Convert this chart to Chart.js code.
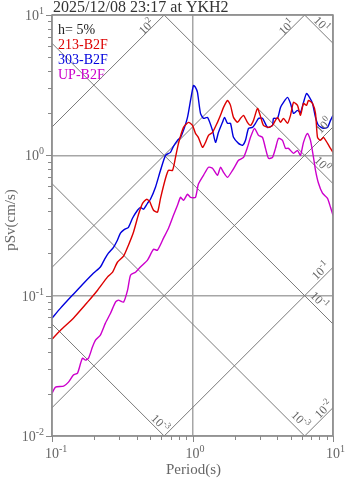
<!DOCTYPE html>
<html>
<head>
<meta charset="utf-8">
<script src="https://cdn.jsdelivr.net/npm/chart.js@4.4.1/dist/chart.umd.min.js"></script>
<style>
  html, body { margin: 0; padding: 0; background: #fff; }
  #wrap { width: 347px; height: 478px; }
</style>
</head>
<body>
<div id="wrap"><canvas id="spectrum" width="347" height="478"></canvas></div>
<script>
const titleText = "2025/12/08 23:17 at YKH2";
const dampingLabel = "h= 5%";
const seriesNames = ["213-B2F", "303-B2F", "UP-B2F"];
const seriesColors = ["#dd0000", "#0000dd", "#cc00cc"];

// 213-B2F
const periods213 = [0.1, 0.115, 0.142, 0.179, 0.211, 0.248, 0.27, 0.292, 0.323, 0.35, 0.38, 0.413, 0.441, 0.471, 0.494, 0.528, 0.563, 0.592, 0.643, 0.675, 0.721, 0.757, 0.795, 0.863, 0.937, 1.0, 1.05, 1.10, 1.178, 1.237, 1.30, 1.388, 1.506, 1.582, 1.662, 1.775, 1.864, 1.958, 2.09, 2.196, 2.307, 2.46, 2.587, 2.718, 2.901, 3.048, 3.2, 3.475, 3.71, 4.026, 4.23, 4.443, 4.745, 4.984, 5.235, 5.587, 5.871, 6.166, 6.477, 6.692, 7.145, 7.506, 7.757, 8.147, 8.558, 9.139, 9.6, 10];
const sv213 = [0.049, 0.0568, 0.0691, 0.0899, 0.1094, 0.1355, 0.147, 0.173, 0.191, 0.229, 0.283, 0.380, 0.455, 0.486, 0.471, 0.406, 0.393, 0.494, 0.686, 0.782, 0.782, 0.968, 1.217, 1.582, 1.718, 1.635, 1.434, 1.343, 1.14, 1.237, 1.388, 1.458, 1.718, 1.927, 2.196, 2.46, 2.27, 1.864, 1.718, 1.834, 1.927, 1.718, 1.635, 1.775, 2.16, 1.895, 1.635, 1.582, 1.635, 1.864, 1.718, 1.834, 1.69, 1.927, 2.384, 2.27, 1.927, 2.345, 2.27, 2.46, 2.345, 1.99, 1.343, 1.279, 1.343, 1.217, 1.121, 1.05];

// 303-B2F
const periods303 = [0.1, 0.115, 0.142, 0.168, 0.197, 0.221, 0.237, 0.252, 0.274, 0.292, 0.307, 0.328, 0.35, 0.374, 0.406, 0.426, 0.448, 0.478, 0.502, 0.545, 0.592, 0.643, 0.697, 0.732, 0.782, 0.822, 0.863, 0.921, 0.968, 1.016, 1.05, 1.085, 1.14, 1.198, 1.279, 1.388, 1.458, 1.531, 1.635, 1.69, 1.775, 1.864, 1.958, 2.125, 2.27, 2.384, 2.504, 2.674, 2.807, 2.95, 3.149, 3.42, 3.71, 3.77, 4.026, 4.23, 4.443, 4.745, 4.984, 5.235, 5.587, 5.871, 6.166, 6.477, 6.803, 7.145, 7.506, 7.885, 8.558, 9.139, 9.6, 10];
const sv303 = [0.0691, 0.0815, 0.1025, 0.1227, 0.1446, 0.160, 0.182, 0.201, 0.221, 0.248, 0.279, 0.297, 0.307, 0.356, 0.406, 0.426, 0.413, 0.455, 0.486, 0.592, 0.782, 1.0, 1.05, 1.159, 1.279, 1.343, 1.506, 1.864, 2.46, 3.15, 3.048, 2.807, 1.99, 1.834, 1.864, 1.506, 1.237, 1.458, 1.718, 1.864, 1.69, 1.69, 1.343, 1.217, 1.178, 1.279, 1.557, 1.582, 1.69, 1.834, 1.834, 1.582, 1.635, 1.834, 1.834, 2.196, 2.384, 2.587, 2.345, 1.99, 2.09, 2.023, 2.384, 2.76, 2.587, 2.345, 1.864, 1.635, 1.557, 1.582, 1.775, 1.927];

// UP-B2F
const periodsUP = [0.1, 0.106, 0.121, 0.131, 0.142, 0.152, 0.16, 0.165, 0.173, 0.182, 0.194, 0.204, 0.221, 0.24, 0.261, 0.283, 0.297, 0.323, 0.345, 0.362, 0.393, 0.426, 0.478, 0.528, 0.563, 0.622, 0.675, 0.732, 0.782, 0.822, 0.863, 0.921, 0.968, 1.05, 1.10, 1.198, 1.30, 1.388, 1.506, 1.582, 1.662, 1.775, 1.927, 2.023, 2.125, 2.307, 2.46, 2.587, 2.763, 2.95, 3.149, 3.308, 3.475, 3.71, 3.896, 4.093, 4.37, 4.59, 4.823, 5.235, 5.587, 5.871, 6.166, 6.584, 6.915, 7.263, 7.506, 7.885, 8.418, 9.139, 9.6, 10];
const svUP = [0.0202, 0.0223, 0.0227, 0.0242, 0.0272, 0.0281, 0.0331, 0.0359, 0.0347, 0.0359, 0.043, 0.0482, 0.0524, 0.0637, 0.075, 0.0899, 0.0929, 0.0899, 0.1094, 0.140, 0.147, 0.160, 0.179, 0.214, 0.211, 0.257, 0.302, 0.374, 0.441, 0.502, 0.478, 0.528, 0.502, 0.502, 0.622, 0.721, 0.822, 0.808, 0.721, 0.822, 0.757, 0.697, 0.782, 0.849, 0.921, 0.968, 1.14, 1.343, 1.557, 1.388, 1.343, 1.121, 0.952, 0.968, 1.121, 1.321, 1.279, 1.121, 1.121, 1.033, 1.085, 1.0, 1.237, 1.434, 1.279, 0.968, 0.782, 0.632, 0.537, 0.494, 0.426, 0.374];

// tripartite guide lines: pseudo acceleration (cm/s2) and displacement (cm)
const accelLevels = [0.01, 0.1, 1, 10, 100];
const dispLevels = [0.001, 0.01, 0.1, 1, 10];

// axis ticks
const periodTicks = [0.1, 1, 10];
const periodTickExps = ["-1", "0", "1"];
const svTicks = [0.01, 0.1, 1, 10];
const svTickExps = ["-2", "-1", "0", "1"];
const minorSteps = [2, 3, 4, 5, 6, 7, 8, 9];

// where the guide-line labels sit (period along the line, lift above it)
const guideLabels = [
  { kind: "acc", level: 100, at: 0.47, exp: "2", lift: 6 },
  { kind: "acc", level: 10, at: 4.67, exp: "1", lift: 6 },
  { kind: "acc", level: 1, at: 8.56, exp: "0", lift: 11 },
  { kind: "acc", level: 0.1, at: 8.15, exp: "-1", lift: 9 },
  { kind: "acc", level: 0.01, at: 8.56, exp: "-2", lift: 8 },
  { kind: "disp", level: 10, at: 8.3, exp: "1", lift: 8 },
  { kind: "disp", level: 1, at: 8.4, exp: "0", lift: 9 },
  { kind: "disp", level: 0.1, at: 8.0, exp: "-1", lift: 10 },
  { kind: "disp", level: 0.01, at: 5.87, exp: "-3", lift: 12 },
  { kind: "disp", level: 0.001, at: 0.59, exp: "-3", lift: 9 },
];

const SERIF = "'Liberation Serif', 'DejaVu Serif', serif";
const TWO_PI = 2 * Math.PI;

const accToSv = (a, t) => a * t / TWO_PI;
const dispToSv = (d, t) => TWO_PI * d / t;

function pairUp(xs, ys) {
  return xs.map((x, i) => ({ x: x, y: ys[i] }));
}

function isDecade(v) {
  const l = Math.log10(v);
  return Math.abs(l - Math.round(l)) < 1e-6;
}

function powText(ctx, exp, x, y, size, align) {
  const expSize = Math.round(size * 0.72);
  ctx.font = size + "px " + SERIF;
  const wb = ctx.measureText("10").width;
  ctx.font = expSize + "px " + SERIF;
  const we = ctx.measureText(exp).width;
  let x0 = x;
  if (align === "right") x0 = x - wb - we;
  else if (align === "center") x0 = x - (wb + we) / 2;
  else if (align === "base") x0 = x - wb / 2;
  ctx.textAlign = "left";
  ctx.textBaseline = "alphabetic";
  ctx.font = size + "px " + SERIF;
  ctx.fillText("10", x0, y);
  ctx.font = expSize + "px " + SERIF;
  ctx.fillText(exp, x0 + wb, y - size * 0.42);
}

const decor = {
  id: "decor",
  afterDraw(chart) {
    const { ctx, chartArea: a, scales } = chart;
    const xs = scales.x, ys = scales.y;
    ctx.save();

    // frame
    ctx.strokeStyle = "#8c8c8c";
    ctx.lineWidth = 1.5;
    ctx.strokeRect(a.left, a.top, a.right - a.left, a.bottom - a.top);

    // outward tick marks
    ctx.strokeStyle = "#888";
    ctx.lineWidth = 1;
    ctx.beginPath();
    svTicks.forEach(d => {
      const py = Math.round(ys.getPixelForValue(d)) + 0.5;
      ctx.moveTo(a.left - 6, py); ctx.lineTo(a.left, py);
      if (d >= 10) return;
      minorSteps.forEach(m => {
        const p = Math.round(ys.getPixelForValue(d * m)) + 0.5;
        ctx.moveTo(a.left - 4, p); ctx.lineTo(a.left, p);
      });
    });
    periodTicks.forEach(d => {
      const px = Math.round(xs.getPixelForValue(d)) + 0.5;
      ctx.moveTo(px, a.bottom); ctx.lineTo(px, a.bottom + 6);
      if (d >= 10) return;
      minorSteps.forEach(m => {
        const p = Math.round(xs.getPixelForValue(d * m)) + 0.5;
        ctx.moveTo(p, a.bottom); ctx.lineTo(p, a.bottom + 4);
      });
    });
    ctx.stroke();

    // tick labels
    ctx.fillStyle = "#666";
    svTicks.forEach((d, i) => {
      powText(ctx, svTickExps[i], 44, ys.getPixelForValue(d) + 5, 14, "right");
    });
    periodTicks.forEach((d, i) => {
      powText(ctx, periodTickExps[i], xs.getPixelForValue(d), 458, 14, "base");
    });

    // axis titles
    ctx.font = "15px " + SERIF;
    ctx.textAlign = "center";
    ctx.textBaseline = "alphabetic";
    ctx.fillText("Period(s)", (a.left + a.right) / 2 + 1, 474);
    ctx.save();
    ctx.translate(15, 220);
    ctx.rotate(-Math.PI / 2);
    ctx.fillText("pSv(cm/s)", 0, 0);
    ctx.restore();

    // guide line labels
    ctx.save();
    ctx.beginPath();
    ctx.rect(a.left, a.top, a.right - a.left, a.bottom - a.top);
    ctx.clip();
    ctx.fillStyle = "#666";
    guideLabels.forEach(g => {
      const sv = g.kind === "acc" ? accToSv(g.level, g.at) : dispToSv(g.level, g.at);
      const px = xs.getPixelForValue(g.at);
      const py = ys.getPixelForValue(sv) - g.lift;
      ctx.save();
      ctx.translate(px, py);
      ctx.rotate(g.kind === "acc" ? -Math.PI / 4 : Math.PI / 4);
      powText(ctx, g.exp, 0, 4, 12, "center");
      ctx.restore();
    });
    ctx.restore();

    // title
    ctx.fillStyle = "#333";
    ctx.font = "16px " + SERIF;
    ctx.textAlign = "left";
    ctx.fillText(titleText, 53, 12);

    // legend text
    ctx.font = "14px " + SERIF;
    ctx.fillStyle = "#222";
    ctx.fillText(dampingLabel, 58, 34);
    seriesNames.forEach((n, i) => {
      ctx.fillStyle = seriesColors[i];
      ctx.fillText(n, 58, 49 + i * 15);
    });

    ctx.restore();
  }
};

const spectra = [
  { label: seriesNames[0], data: pairUp(periods213, sv213), borderColor: seriesColors[0] },
  { label: seriesNames[1], data: pairUp(periods303, sv303), borderColor: seriesColors[1] },
  { label: seriesNames[2], data: pairUp(periodsUP, svUP), borderColor: seriesColors[2] },
].map(d => Object.assign(d, { borderWidth: 1.4, pointRadius: 0, tension: 0.2, fill: false }));

const guides = [];
accelLevels.forEach(lv => {
  guides.push({
    label: "acc " + lv,
    data: [{ x: 0.1, y: accToSv(lv, 0.1) }, { x: 10, y: accToSv(lv, 10) }],
    borderColor: "#7a7a7a", borderWidth: 1, pointRadius: 0, tension: 0,
  });
});
dispLevels.forEach(lv => {
  guides.push({
    label: "disp " + lv,
    data: [{ x: 0.1, y: dispToSv(lv, 0.1) }, { x: 10, y: dispToSv(lv, 10) }],
    borderColor: "#7a7a7a", borderWidth: 1, pointRadius: 0, tension: 0,
  });
});

const gridColor = c => (c.tick && isDecade(c.tick.value) ? "#a6a6a6" : "rgba(0,0,0,0)");

new Chart(document.getElementById("spectrum").getContext("2d"), {
  type: "line",
  data: { datasets: spectra.concat(guides) },
  options: {
    responsive: false,
    animation: false,
    devicePixelRatio: 1,
    layout: { padding: { left: 52, right: 14, top: 15, bottom: 42 } },
    plugins: { legend: { display: false }, tooltip: { enabled: false }, title: { display: false } },
    scales: {
      x: {
        type: "logarithmic", min: 0.1, max: 10,
        ticks: { display: false },
        grid: { drawTicks: false, color: gridColor, lineWidth: 1.5 },
        border: { display: false },
        afterFit: s => { s.height = 0; },
      },
      y: {
        type: "logarithmic", min: 0.01, max: 10,
        ticks: { display: false },
        grid: { drawTicks: false, color: gridColor, lineWidth: 1.5 },
        border: { display: false },
        afterFit: s => { s.width = 0; },
      },
    },
  },
  plugins: [decor],
});
</script>
</body>
</html>
